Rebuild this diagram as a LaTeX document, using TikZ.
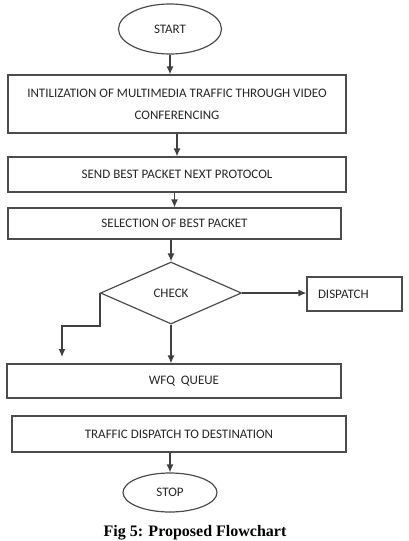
\documentclass[tikz,border=0pt]{standalone}
\usepackage{fontspec}
\setmainfont{Carlito}
\newfontfamily\captionfont{Liberation Serif}
\usetikzlibrary{shapes.geometric}
\usetikzlibrary{arrows.meta}

\tikzset{
    box/.style={draw=black!70, line width=1.2pt, rectangle, inner sep=0pt, text=black!85, font=\fontsize{13}{22}\selectfont},
    terminal/.style={draw=black!70, line width=1.2pt, ellipse, inner sep=0pt, text=black!85, font=\fontsize{13}{16}\selectfont},
    decision/.style={draw=black!70, line width=1.2pt, diamond, inner sep=0pt, text=black!85, font=\fontsize{13}{16}\selectfont},
    flow/.style={draw=black!75, line width=1.2pt, -{Latex[length=8pt,width=7pt]}},
}

\begin{document}
\begin{tikzpicture}[x=1pt,y=-1pt]
    %\draw [help lines] (0,0) grid (409,541);
    \useasboundingbox (0,0) rectangle (409,541);

    %start
    \node (start) at (170,29) [terminal, minimum width=103pt, minimum height=50pt] {START};

    %steps
    \node (init) at (177,104) [box, minimum width=338pt, minimum height=58pt, align=center] {INTILIZATION OF MULTIMEDIA TRAFFIC THROUGH VIDEO\\CONFERENCING};
    \node (send) at (177,174.5) [box, minimum width=338pt, minimum height=35pt] {SEND BEST PACKET NEXT PROTOCOL};
    \node (select) at (174.5,223.5) [box, minimum width=333pt, minimum height=31pt] {SELECTION OF BEST PACKET};

    %check
    \node (check) at (171,293) [decision, minimum width=141pt, minimum height=62pt] {CHECK};
    \node (dispatch) at (354.5,294) [box, minimum height=34pt, text width=73pt, inner xsep=11pt, align=left] {DISPATCH};

    %queue
    \node (wfq) at (174,381) [box, minimum width=334pt, minimum height=34pt] {\hspace{20pt}WFQ\ \ QUEUE};
    \node (traffic) at (179,434) [box, minimum width=334pt, minimum height=36pt] {TRAFFIC DISPATCH TO DESTINATION};

    %stop
    \node (stop) at (170,492.5) [terminal, minimum width=94pt, minimum height=39pt] {STOP};

    \node (caption) at (195,536.5) [anchor=base, font=\captionfont\bfseries\fontsize{16}{18}\selectfont] {Fig 5: Proposed Flowchart};

    %arrows
    \draw [flow] (start.south) to (start.south |- init.north);
    \draw [flow] (init.south) to (send.north);
    \draw [flow] (select.north |- send.south) to (select.north);
    \draw [flow] (check.north |- select.south) to (check.north);
    \draw [flow] (check.east) to (check.east -| dispatch.west);
    \draw [flow] (check.south) to (check.south |- wfq.north);
    \coordinate (left drop) at (62,357);
    \draw [flow] (check.west) -- ++(0,33) -| (left drop);
    \draw [flow] (stop.north |- traffic.south) to (stop.north);

\end{tikzpicture}
\end{document}
